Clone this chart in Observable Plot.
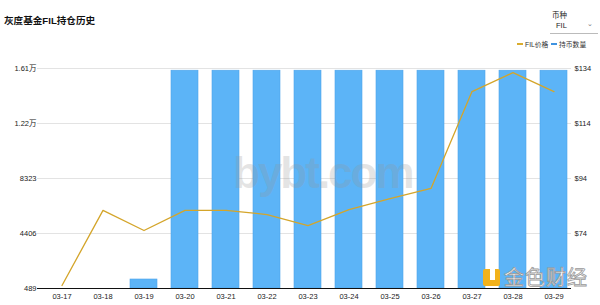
<!DOCTYPE html>
<html>
<head>
<meta charset="utf-8">
<script src="https://cdn.jsdelivr.net/npm/d3@7"></script>
<script src="https://cdn.jsdelivr.net/npm/@observablehq/plot@0.6"></script>
<style>
  body { margin: 0; background: #fff; font-family: "Liberation Sans", "Noto Sans CJK SC", sans-serif; }
  #wrap { position: relative; width: 600px; height: 305px; overflow: hidden; }
  #chart { position: absolute; left: 0; top: 0; }
  .title { position: absolute; left: 4px; top: 13px; font-size: 9.6px; font-weight: bold; color: #111; }
  .sel-label { position: absolute; left: 552px; top: 9px; font-size: 7.5px; color: #222; }
  .sel-value { position: absolute; left: 556px; top: 21px; font-size: 7.5px; color: #222; }
  .sel-arrow { position: absolute; left: 587px; top: 20px; font-size: 7px; color: #777; }
  .sel-line { position: absolute; left: 550px; top: 33px; width: 48px; height: 1px; background: #bbb; }
  .legend { position: absolute; top: 39px; font-size: 6.8px; color: #333; display: flex; align-items: center; }
  .legend i { display: inline-block; width: 6px; height: 2px; margin-right: 2px; }
  .mark { position: absolute; left: 233px; top: 148px; font-size: 44px; font-weight: bold; color: rgba(150,150,150,0.26); letter-spacing: -2px; }
  .brand { position: absolute; left: 483px; top: 267px; display: flex; align-items: center; }
  .brand .icon { width: 17px; height: 17px; background: #f2b21b; border-radius: 2px; position: relative; margin-right: 4px; }
  .brand .icon::after { content: ""; position: absolute; left: 7px; top: 0; width: 5px; height: 11px; background: #fff; }
  .brand .txt { font-family: "Noto Sans CJK SC", sans-serif; font-size: 20px; color: #fff; -webkit-text-stroke: 0.8px #999; letter-spacing: 1px; line-height: 20px; height: 20px; }
</style>
</head>
<body>
<div id="wrap">
  <div id="chart"></div>
  <div class="title">灰度基金FIL持仓历史</div>
  <div class="sel-label">币种</div>
  <div class="sel-value">FIL</div>
  <div class="sel-arrow">&#8964;</div>
  <div class="sel-line"></div>
  <div class="legend" style="left:517px"><i style="background:#d9ac2e"></i>FIL价格</div>
  <div class="legend" style="left:551px"><i style="background:#3f93e0"></i>持币数量</div>
  <div class="mark">bybt.com</div>
  <div class="brand"><div class="icon"></div><div class="txt">金色财经</div></div>
</div>
<script>
// Daily snapshot dates
const dates = ["03-17", "03-18", "03-19", "03-20", "03-21", "03-22", "03-23", "03-24", "03-25", "03-26", "03-27", "03-28", "03-29"];
// FIL held by the trust
const holdings = [0, 0, 1130, 16000, 16000, 16000, 16000, 16000, 16000, 16000, 16000, 16000, 16000];
// FIL price in USD
const prices = [55.1, 82.4, 75.1, 82.4, 82.4, 80.9, 76.9, 82.7, 86.7, 90.4, 125.6, 132.5, 125.6];

// Left axis (holdings)
const holdingTicks = [489, 4406, 8323, 12240, 16157];
const holdingTickLabels = ["489", "4406", "8323", "1.22万", "1.61万"];
// Right axis (price)
const priceDomain = [54, 134];
const priceTicks = [74, 94, 114, 134];

const yMin = holdingTicks[0], yMax = holdingTicks[holdingTicks.length - 1];
// Map a price onto the holdings scale so both series share one y scale
const priceToY = p => yMin + (p - priceDomain[0]) / (priceDomain[1] - priceDomain[0]) * (yMax - yMin);

const rows = dates.map((d, i) => ({date: d, holding: holdings[i], price: prices[i]}));

const chart = Plot.plot({
  width: 600,
  height: 305,
  marginTop: 68,
  marginBottom: 17,
  marginLeft: 37,
  marginRight: 21,
  style: {fontFamily: "'Liberation Sans', 'Noto Sans CJK SC', sans-serif", fontSize: "7.5px", color: "#222"},
  x: {type: "band", domain: dates, paddingInner: 0.33, paddingOuter: 0.165},
  y: {domain: [yMin, yMax]},
  marks: [
    Plot.gridY({ticks: holdingTicks.slice(1), stroke: "#e3e3e3", strokeOpacity: 1, strokeWidth: 1, insetRight: 8}),
    Plot.rectY(rows.filter(r => r.holding > yMin), {
      x: "date", y1: yMin, y2: "holding",
      fill: "#5cb4f7", stroke: "#4ea4ea", strokeWidth: 0.6
    }),
    Plot.line(rows, {x: "date", y: r => priceToY(r.price), stroke: "#d4a52a", strokeWidth: 1.3}),
    Plot.ruleY([yMin], {stroke: "#111", strokeWidth: 1.2, insetRight: 8}),
    Plot.axisY({ticks: holdingTicks, tickFormat: (d, i) => holdingTickLabels[i], tickSize: 0, tickPadding: 1, label: null}),
    Plot.axisY({anchor: "right", ticks: priceTicks.map(priceToY), tickFormat: (d, i) => "$" + priceTicks[i], tickSize: 0, tickPadding: 0, dx: -5, label: null}),
    Plot.axisX({tickSize: 0, tickPadding: 5, label: null})
  ]
});
document.getElementById("chart").appendChild(chart);
</script>
</body>
</html>
